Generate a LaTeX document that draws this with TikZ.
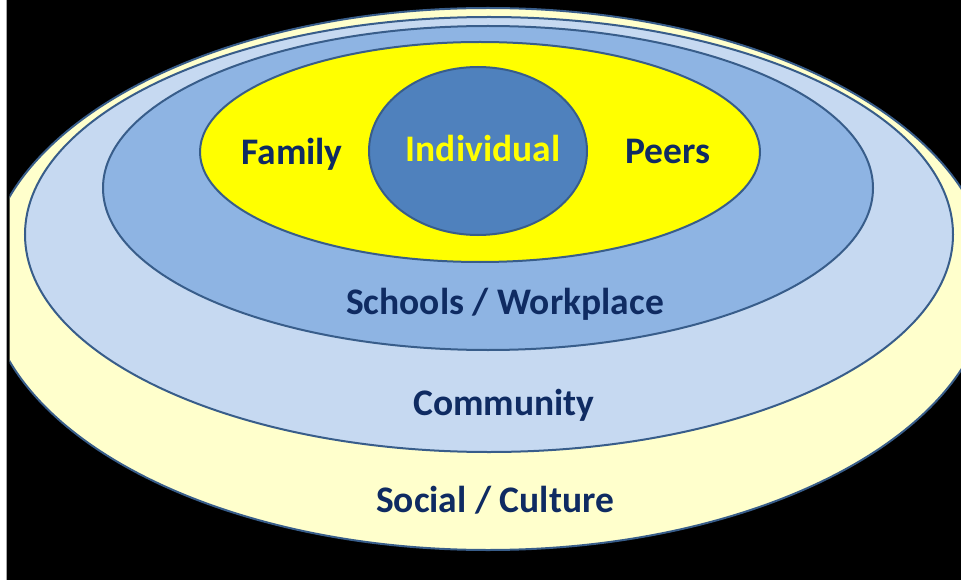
\documentclass[tikz,border=0pt]{standalone}
\usepackage{fontspec}
\setmainfont{Carlito}
\usetikzlibrary{shapes.geometric}
\definecolor{edgeblue}{HTML}{385D8A}
\definecolor{paleyellow}{HTML}{FFFFCC}
\definecolor{lightblue}{HTML}{C6D9F1}
\definecolor{midblue}{HTML}{8EB4E3}
\definecolor{brightyellow}{HTML}{FFFF00}
\definecolor{coreblue}{HTML}{4F81BD}
\definecolor{navy}{HTML}{0F2B62}
\begin{document}
\begin{tikzpicture}[x=1pt,y=-1pt,
  ring/.style={ellipse, draw=edgeblue, line width=2pt, inner sep=0pt},
  lbl/.style={font=\bfseries\fontsize{37.5}{44}\selectfont, text=navy, anchor=base, inner sep=0pt}]
\useasboundingbox (0,0) rectangle (961,580);
\fill[white] (0,0) rectangle (7,580);
\fill[black] (7,0) rectangle (961,580);
\draw[black!35, line width=0.8pt] (6.5,0) -- (6.5,580);
\begin{scope}
  \clip (9.5,0) rectangle (961,580);
  \node[ring, fill=paleyellow, minimum width=1004pt, minimum height=542pt] (social) at (488,279) {};
\end{scope}
\node[ring, fill=lightblue, minimum width=928pt, minimum height=435pt] (community) at (489,234.5) {};
\node[ring, fill=midblue, minimum width=770pt, minimum height=324pt] (school) at (488,188) {};
\node[ring, fill=brightyellow, minimum width=560pt, minimum height=220pt] (family) at (480,152) {};
\node[ring, fill=coreblue, minimum width=218pt, minimum height=168pt] (indiv) at (478,151) {};
\node[lbl] (tfamily) at (292,165) {Family};
\node[lbl, text=brightyellow] (tindiv) at (483,162) {Individual};
\node[lbl] (tpeers) at (668,164) {Peers};
\node[lbl] (tschool) at (505,314) {Schools / Workplace};
\node[lbl] (tcomm) at (504,415) {Community};
\node[lbl] (tsocial) at (495,512) {Social / Culture};
\end{tikzpicture}
\end{document}
